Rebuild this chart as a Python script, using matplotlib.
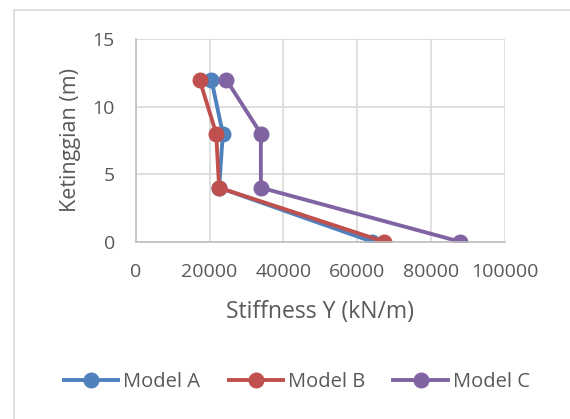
import matplotlib.pyplot as plt
from matplotlib.lines import Line2D

heights = [0, 4, 8, 12]
model_a = [64100, 22600, 23600, 20500]
model_b = [67300, 22600, 21800, 17300]
model_c = [87900, 33900, 33900, 24500]

series = [('Model A', model_a, '#4F81BD'),
          ('Model B', model_b, '#C0504D'),
          ('Model C', model_c, '#8064A2')]

plt.rcParams['font.family'] = ['Open Sans', 'DejaVu Sans']
txt = '#595959'

fig = plt.figure(figsize=(5.7, 4.19), dpi=100)
ax = fig.add_axes([0.238, 0.423, 0.648, 0.484])

for name, vals, col in series:
    ax.plot(vals, heights, color=col, lw=2.8, marker='o', ms=10.5, label=name)

ax.set_xlim(0, 100000)
ax.set_ylim(0, 15)
ax.set_xticks([0, 20000, 40000, 60000, 80000, 100000])
ax.set_yticks([0, 5, 10, 15])
ax.grid(True, color='#D9D9D9', lw=1.2)
ax.set_axisbelow(True)
for s in ['top', 'right']:
    ax.spines[s].set_visible(False)
for s in ['left', 'bottom']:
    ax.spines[s].set_color('#BFBFBF')
    ax.spines[s].set_linewidth(1.2)
ax.tick_params(axis='y', length=0, colors=txt, labelsize=14, pad=15)
ax.tick_params(axis='x', length=0, colors=txt, labelsize=14, pad=15)
ax.set_xlabel('Stiffness Y (kN/m)', color=txt, fontsize=16.5, labelpad=14)
ax.set_ylabel('Ketinggian (m)', color=txt, fontsize=15.5, labelpad=8)

leg = fig.legend(loc='center', bbox_to_anchor=(0.521, 0.088), ncol=3, frameon=False,
                 fontsize=14.5, handlelength=2.7, columnspacing=1.4, handletextpad=0.25)
for t in leg.get_texts():
    t.set_color(txt)

# outer chart border (only left and top are visible in the crop)
fig.add_artist(Line2D([14 / 570, 14 / 570], [0, 1 - 10 / 419], transform=fig.transFigure,
                      color='#D9D9D9', lw=1.2))
fig.add_artist(Line2D([14 / 570, 1], [1 - 10 / 419, 1 - 10 / 419], transform=fig.transFigure,
                      color='#D9D9D9', lw=1.2))

fig.savefig('out.png', dpi=100)
